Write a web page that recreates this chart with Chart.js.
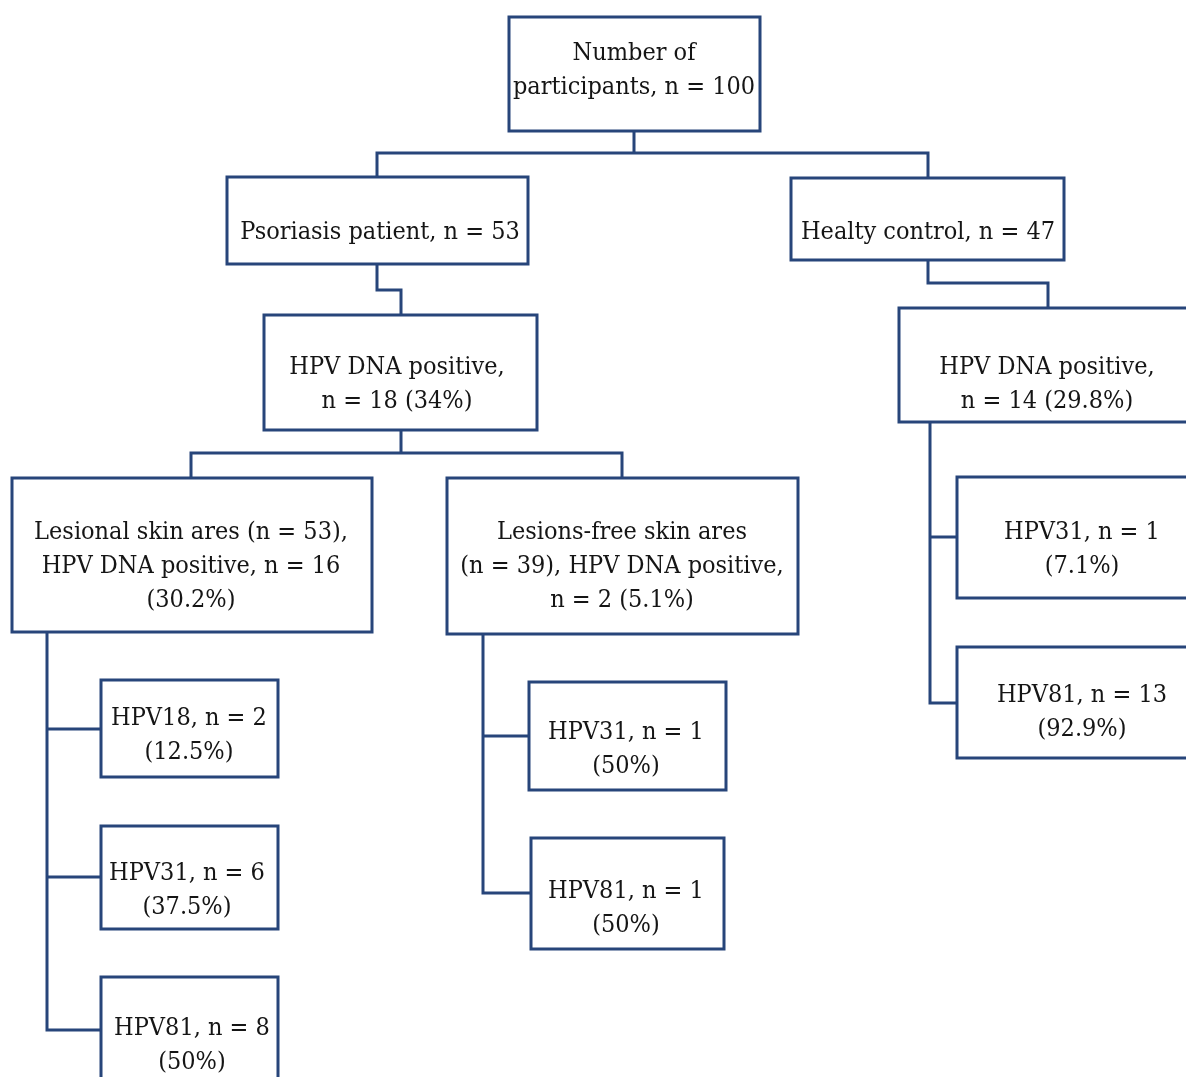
<!DOCTYPE html>
<html>
<head>
<meta charset="utf-8">
<script src="https://cdn.jsdelivr.net/npm/chart.js@4"></script>
<style>
  html, body { margin: 0; padding: 0; background: #fff; }
  #flow { display: block; }
</style>
</head>
<body>
<canvas id="flow" width="1186" height="1077"></canvas>
<script>
// Node texts (one entry per box, lines separated)
const nodeIds = ['all', 'psor', 'ctrl', 'psorPos', 'ctrlPos', 'lesional', 'lesFree',
  'ctrl31', 'ctrl81', 'les18', 'les31', 'les81', 'free31', 'free81'];
const nodeLines = [
  ['Number of', 'participants, n = 100'],
  ['Psoriasis patient, n = 53'],
  ['Healty control, n = 47'],
  ['HPV DNA positive,', 'n = 18 (34%)'],
  ['HPV DNA positive,', 'n = 14 (29.8%)'],
  ['Lesional skin ares (n = 53),', 'HPV DNA positive, n = 16', '(30.2%)'],
  ['Lesions-free skin ares', '(n = 39), HPV DNA positive,', 'n = 2 (5.1%)'],
  ['HPV31, n = 1', '(7.1%)'],
  ['HPV81, n = 13', '(92.9%)'],
  ['HPV18, n = 2', '(12.5%)'],
  ['HPV31, n = 6', '(37.5%)'],
  ['HPV81, n = 8', '(50%)'],
  ['HPV31, n = 1', '(50%)'],
  ['HPV81, n = 1', '(50%)']
];

// Layout (canvas units): box left, top, right, bottom, text centre x, first line y
const layout = {
  all:      [509, 17, 760, 131, 634, 53],
  psor:     [227, 177, 528, 264, 380, 232],
  ctrl:     [791, 178, 1064, 260, 928, 232],
  psorPos:  [264, 315, 537, 430, 397, 367],
  ctrlPos:  [899, 308, 1192, 422, 1047, 367],
  lesional: [12, 478, 372, 632, 191, 532],
  lesFree:  [447, 478, 798, 634, 622, 532],
  ctrl31:   [957, 477, 1192, 598, 1082, 532],
  ctrl81:   [957, 647, 1192, 758, 1082, 695],
  les18:    [101, 680, 278, 777, 189, 718],
  les31:    [101, 826, 278, 929, 187, 873],
  les81:    [101, 977, 278, 1092, 192, 1028],
  free31:   [529, 682, 726, 790, 626, 732],
  free81:   [531, 838, 724, 949, 626, 891]
};
const lineGap = 34;

// Connector polylines (canvas units)
const connectors = [
  [[634, 131], [634, 153]],
  [[377, 177], [377, 153], [928, 153], [928, 178]],
  [[377, 264], [377, 290], [401, 290], [401, 315]],
  [[928, 260], [928, 283], [1048, 283], [1048, 308]],
  [[401, 430], [401, 453]],
  [[191, 478], [191, 453], [622, 453], [622, 478]],
  [[47, 632], [47, 1030], [101, 1030]],
  [[47, 729], [101, 729]],
  [[47, 877], [101, 877]],
  [[483, 634], [483, 893], [531, 893]],
  [[483, 736], [529, 736]],
  [[930, 422], [930, 703], [957, 703]],
  [[930, 537], [957, 537]]
];

const stroke = '#27457a';
const datasets = [];
connectors.forEach(c => {
  datasets.push({
    data: c.map(p => ({ x: p[0], y: p[1] })),
    showLine: true, borderColor: stroke, borderWidth: 3, pointRadius: 0, fill: false, tension: 0
  });
});
nodeIds.forEach(id => {
  const [l, t, r, b] = layout[id];
  datasets.push({
    data: [{ x: l, y: t }, { x: r, y: t }, { x: r, y: b }, { x: l, y: b }, { x: l, y: t }, { x: r, y: t }],
    showLine: true, borderColor: stroke, borderWidth: 3, pointRadius: 0, fill: false, tension: 0,
    borderJoinStyle: 'miter'
  });
});

const textPlugin = {
  id: 'nodeText',
  afterDatasetsDraw(chart) {
    const { ctx, scales: { x, y } } = chart;
    ctx.save();
    ctx.fillStyle = '#151515';
    ctx.font = '25px "DejaVu Serif Condensed", "DejaVu Serif", serif';
    ctx.textAlign = 'center';
    ctx.textBaseline = 'middle';
    nodeIds.forEach((id, i) => {
      const L = layout[id];
      nodeLines[i].forEach((s, k) => {
        ctx.fillText(s, x.getPixelForValue(L[4]), y.getPixelForValue(L[5] + k * lineGap));
      });
    });
    ctx.restore();
  }
};

new Chart(document.getElementById('flow'), {
  type: 'scatter',
  data: { datasets },
  options: {
    responsive: false,
    animation: false,
    layout: { padding: 0 },
    plugins: { legend: { display: false }, tooltip: { enabled: false } },
    scales: {
      x: { type: 'linear', min: 0, max: 1186, display: false },
      y: { type: 'linear', min: 0, max: 1077, reverse: true, display: false }
    }
  },
  plugins: [textPlugin]
});
</script>
</body>
</html>
